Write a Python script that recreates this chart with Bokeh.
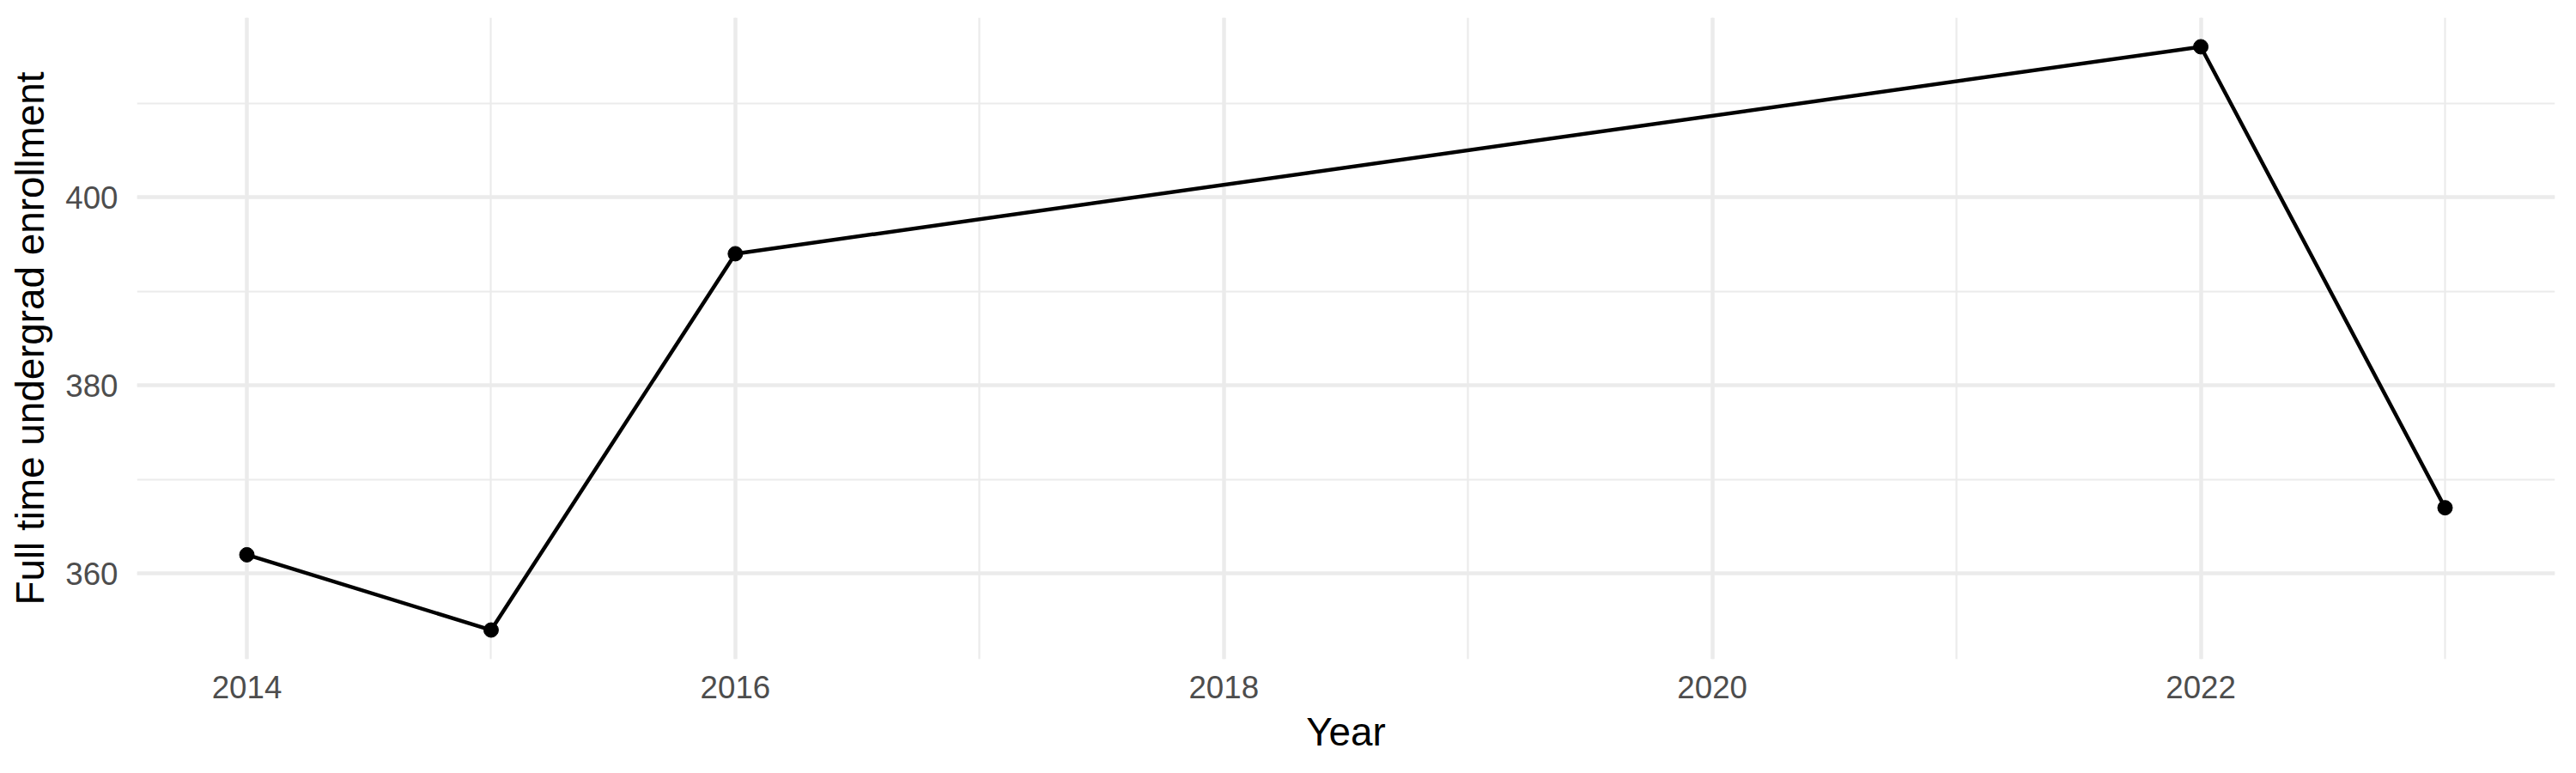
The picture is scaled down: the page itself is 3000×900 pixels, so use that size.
from bokeh.plotting import figure
from bokeh.models import Range1d, SingleIntervalTicker, ColumnDataSource
from bokeh.embed import file_html
from bokeh.resources import INLINE

# Data
years = [2014, 2015, 2016, 2022, 2023]
enrollment = [362, 354, 394, 416, 367]

x_label = "Year"
y_label = "Full time undergrad enrollment"

src = ColumnDataSource(data=dict(year=years, enrollment=enrollment))

x_pad = (max(years) - min(years)) * 0.05
y_pad = (max(enrollment) - min(enrollment)) * 0.05

p = figure(
    width=2984, height=884,
    output_backend="svg", toolbar_location=None,
    x_range=Range1d(min(years) - x_pad, max(years) + x_pad),
    y_range=Range1d(min(enrollment) - y_pad, max(enrollment) + y_pad),
    min_border_left=159, min_border_right=9,
    min_border_top=20, min_border_bottom=117,
)
p.outline_line_color = None
p.background_fill_color = "white"
p.border_fill_color = "white"

p.xaxis.ticker = SingleIntervalTicker(interval=2, num_minor_ticks=2)
p.yaxis.ticker = SingleIntervalTicker(interval=20, num_minor_ticks=2)

for ax in (p.xaxis, p.yaxis):
    ax.axis_line_color = None
    ax.major_tick_line_color = None
    ax.minor_tick_line_color = None
    ax.major_tick_out = 0
    ax.major_tick_in = 0
    ax.minor_tick_out = 0
    ax.minor_tick_in = 0
    ax.major_label_text_font = "Liberation Sans"
    ax.major_label_text_font_size = "36.7px"
    ax.major_label_text_color = "#4D4D4D"
    ax.axis_label_text_font = "Liberation Sans"
    ax.axis_label_text_font_size = "45.8px"
    ax.axis_label_text_font_style = "normal"
    ax.axis_label_text_color = "black"

p.xaxis.axis_label = x_label
p.yaxis.axis_label = y_label
p.xaxis.major_label_standoff = 19
p.xaxis.axis_label_standoff = 11
p.yaxis.major_label_standoff = 22
p.yaxis.axis_label_standoff = 12

for g in (p.xgrid, p.ygrid):
    g.grid_line_color = "#EBEBEB"
    g.grid_line_width = 4.45
    g.minor_grid_line_color = "#EBEBEB"
    g.minor_grid_line_width = 2.2

p.line("year", "enrollment", source=src, line_color="black", line_width=4.45)
p.scatter("year", "enrollment", source=src, size=17, fill_color="black", line_color="black")

open("out.html", "w").write(file_html(p, INLINE))
